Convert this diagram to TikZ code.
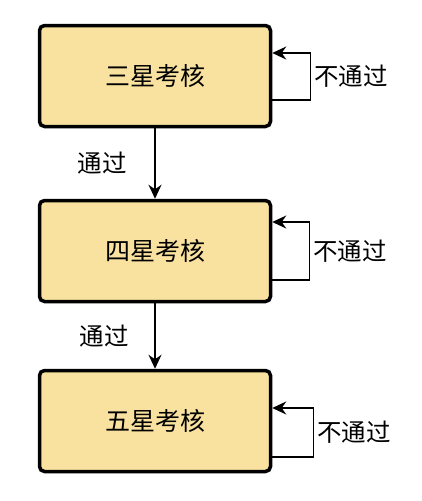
\documentclass[tikz,border=0pt]{standalone}
\usepackage{fontspec}
\setmainfont{Noto Sans CJK SC}
\usepackage{tikz}
\usetikzlibrary{positioning,arrows.meta}
\tikzstyle{level} = [rectangle, draw=black, line width=3.5pt, rounded corners=5pt, fill=boxfill, minimum width=231pt, minimum height=101pt, text centered, font=\fontsize{25}{29}\selectfont]
\tikzstyle{pass} = [draw, line width=1.5pt, -{Stealth[length=14pt,width=13pt]}]
\tikzstyle{fail} = [draw, line width=1.5pt, -{Stealth[length=14pt,width=13pt]}]
\tikzstyle{tag} = [draw=none, fill=none, font=\fontsize{24.5}{28}\selectfont]
\definecolor{boxfill}{HTML}{F9E29F}

\begin{document}
\begin{tikzpicture}[x=1pt,y=1pt,auto]
	\useasboundingbox (0,0) rectangle (422,-501);

	% place nodes
	\node [level] (N1) at (155,-76) {三星考核};
	\node [level, below of=N1, node distance=175pt] (N2) {四星考核};
	\node [level, below of=N2, node distance=170pt] (N3) {五星考核};

	% draw edges
	\path [pass] (N1) -- node [tag, left=24pt] {通过} (N2);
	\path [pass] (N2) -- node [tag, left=22pt] {通过} (N3);

	\path [fail] ([yshift=-24pt]N1.east) -- ++(38pt,0) |- node [tag, right, pos=0.25] {不通过} ([yshift=23pt]N1.east);
	\path [fail] ([yshift=-29pt]N2.east) -- ++(37pt,0) |- node [tag, right, pos=0.25] {不通过} ([yshift=29pt]N2.east);
	\path [fail] ([yshift=-36pt]N3.east) -- ++(41pt,0) |- node [tag, right, pos=0.25] {不通过} ([yshift=13pt]N3.east);
\end{tikzpicture}
\end{document}
